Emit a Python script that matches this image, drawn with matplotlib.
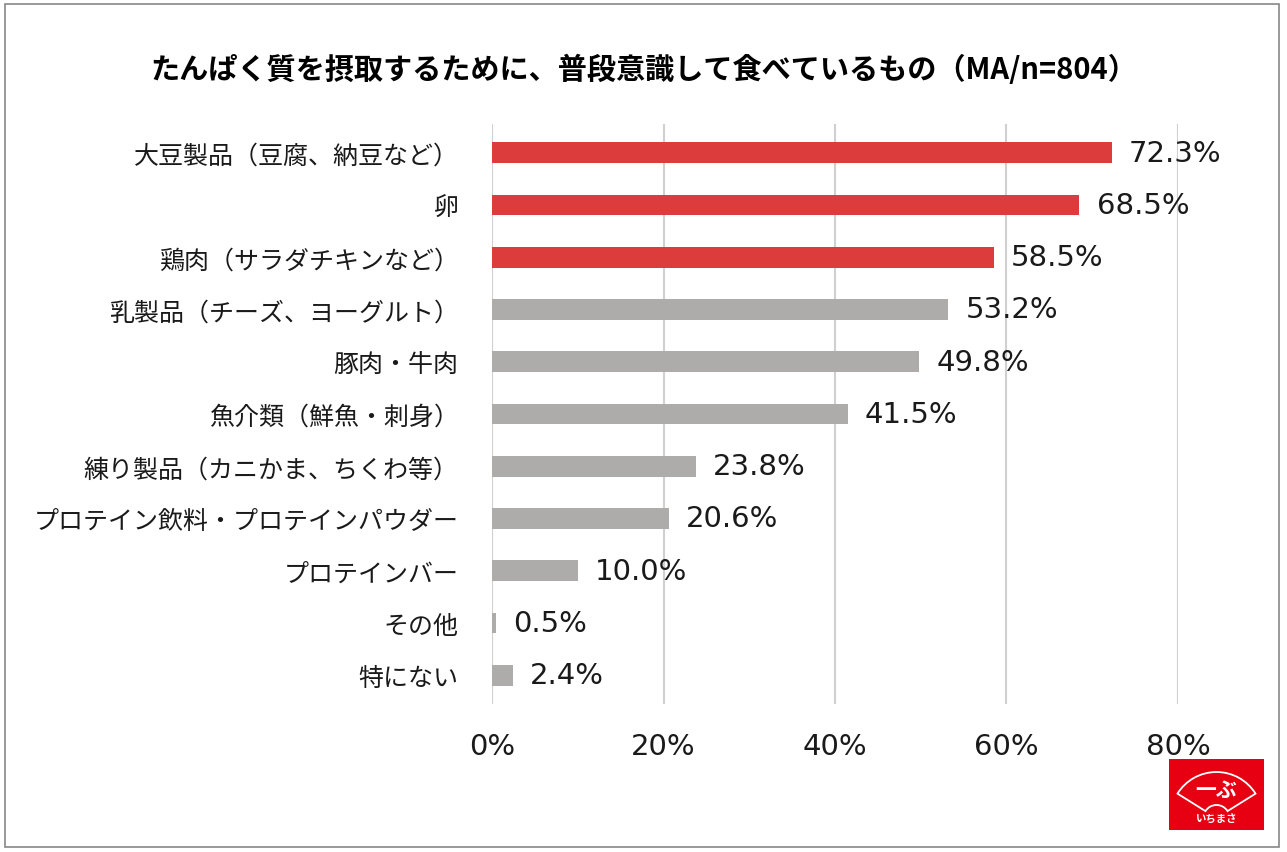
import matplotlib.pyplot as plt
from matplotlib.patches import Rectangle, Wedge

plt.rcParams["font.family"] = ["Noto Sans CJK JP", "DejaVu Sans"]

categories = [
    "大豆製品（豆腐、納豆など）",
    "卵",
    "鶏肉（サラダチキンなど）",
    "乳製品（チーズ、ヨーグルト）",
    "豚肉・牛肉",
    "魚介類（鮮魚・刺身）",
    "練り製品（カニかま、ちくわ等）",
    "プロテイン飲料・プロテインパウダー",
    "プロテインバー",
    "その他",
    "特にない",
]
values = [72.3, 68.5, 58.5, 53.2, 49.8, 41.5, 23.8, 20.6, 10.0, 0.5, 2.4]
highlight = [True, True, True, False, False, False, False, False, False, False, False]
xticks = [0, 20, 40, 60, 80]
title = "たんぱく質を摂取するために、普段意識して食べているもの（MA/n=804）"

red = "#dc3c3c"
grey = "#aeabab"
num_font = ["DejaVu Sans"]

fig = plt.figure(figsize=(12.87, 8.53), dpi=100)
ax = fig.add_axes([0.3823, 0.1735, 0.533, 0.68])

ypos = list(range(len(categories)))
colors = [red if h else grey for h in highlight]
ax.barh(ypos, values, height=0.4, color=colors, zorder=2)
for y, v in zip(ypos, values):
    ax.text(v + 2.0, y, f"{v:.1f}%", va="center", ha="left", fontsize=21,
            family=num_font, color="#1a1a1a")

ax.set_xlim(0, 80)
ax.set_ylim(10.55, -0.55)
ax.set_xticks(xticks)
ax.set_xticklabels([f"{t}%" for t in xticks], family=num_font, fontsize=21)
ax.set_yticks(ypos)
ax.set_yticklabels(categories, fontsize=18)
ax.tick_params(axis="both", length=0, colors="#1a1a1a")
ax.tick_params(axis="x", pad=20)
ax.tick_params(axis="y", pad=24)
ax.grid(axis="x", color="#d0d0d0", linewidth=1.5, zorder=0)
for s in ax.spines.values():
    s.set_visible(False)

fig.text(0.5, 0.918, title, ha="center", va="center", fontsize=21, fontweight="bold")

# frame round the chart
fig.patches.append(Rectangle((0.004, 0.006), 0.99, 0.988, transform=fig.transFigure,
                             fill=False, edgecolor="#888888", linewidth=1.2))

# logo
lx, ly, lw, lh = 1169 / 1287, 1 - 831 / 853, 95 / 1287, 71 / 853
lax = fig.add_axes([lx, ly, lw, lh], zorder=5)
lax.set_xlim(0, 95)
lax.set_ylim(0, 71)
lax.axis("off")
lax.add_patch(Rectangle((0, 0), 95, 71, facecolor="#e60012", edgecolor="none"))
lax.add_patch(Wedge((47.5, 12), 46, 32, 148, width=33, facecolor="none",
                    edgecolor="white", linewidth=1.3))
lax.text(47.5, 40, "一ぶ", color="white", fontsize=15, fontweight="bold",
         ha="center", va="center")
lax.text(47.5, 11, "いちまさ", color="white", fontsize=7.5, fontweight="bold",
         ha="center", va="center")

fig.savefig("out.png", dpi=100)
